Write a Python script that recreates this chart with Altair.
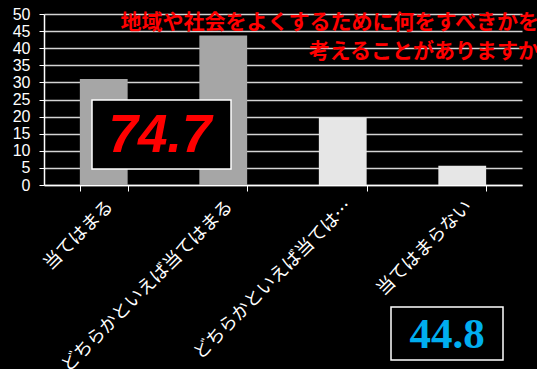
import altair as alt
import pandas as pd

categories = ["当てはまる", "どちらかといえば当てはまる", "どちらかといえば当てはまらない", "当てはまらない"]
values = [31.0, 43.7, 19.7, 5.6]
groups = ["肯定", "肯定", "否定", "否定"]
title_lines = ["地域や社会をよくするために何をすべきかを", "考えることがありますか"]
big_labels = ["74.7", "44.8"]

df = pd.DataFrame({"category": categories, "value": values, "group": groups})

W, H = 478, 171

bars = alt.Chart(df).mark_bar().encode(
    x=alt.X("category:N", sort=categories,
            scale=alt.Scale(paddingInner=0.6, paddingOuter=0.3),
            axis=alt.Axis(title=None, labelAngle=-45, labelColor="white", labelFontSize=18,
                          labelFont="Noto Sans CJK JP", labelLimit=400,
                          labelExpr="length(datum.label) > 13 ? substring(datum.label, 0, 11) + '…' : datum.label",
                          domainColor="white", domainWidth=1.5, tickColor="white", tickSize=6,
                          tickBand="extent", grid=False, labelPadding=6)),
    y=alt.Y("value:Q", scale=alt.Scale(domain=[0, 50]),
            axis=alt.Axis(title=None, values=list(range(0, 51, 5)), grid=True, gridColor="#d4d4d4",
                          gridWidth=1.5, labelColor="white", labelFontSize=16, labelFont="Liberation Sans",
                          domainColor="white", domainWidth=1.5, tickColor="white", tickSize=5,
                          labelPadding=9)),
    color=alt.Color("group:N", scale=alt.Scale(domain=["肯定", "否定"], range=["#a6a6a6", "#e6e6e6"]),
                    legend=None),
)

one = alt.Data(values=[{"a": 1}])

box1 = alt.Chart(one).mark_rect(fill="black", stroke="white", strokeWidth=1.5).encode(
    x=alt.value(48), x2=alt.value(187), y=alt.value(86), y2=alt.value(155))
txt1 = alt.Chart(one).mark_text(text=big_labels[0], color="#ff0000", font="Liberation Sans", fontSize=53,
                                fontWeight="bold", fontStyle="italic", align="center", baseline="middle").encode(
    x=alt.value(116), y=alt.value(122))

box2 = alt.Chart(one).mark_rect(fill="black", stroke="white", strokeWidth=1.5).encode(
    x=alt.value(347), x2=alt.value(459), y=alt.value(293), y2=alt.value(346))
txt2 = alt.Chart(one).mark_text(text=big_labels[1], color="#00aeef", font="Liberation Sans Narrow", fontSize=43,
                                fontWeight="bold", align="center", baseline="middle").encode(
    x=alt.value(403), y=alt.value(321))

t1 = alt.Chart(one).mark_text(text=title_lines[0], color="#ff0000", font="Noto Sans CJK JP", fontSize=21,
                              fontWeight="bold", align="right", baseline="middle").encode(
    x=alt.value(495), y=alt.value(9))
t2 = alt.Chart(one).mark_text(text=title_lines[1], color="#ff0000", font="Noto Sans CJK JP", fontSize=21,
                              fontWeight="bold", align="right", baseline="middle").encode(
    x=alt.value(495), y=alt.value(38))

chart = alt.layer(bars, box1, txt1, t1, t2, box2, txt2).properties(
    width=W, height=H,
    background="black",
    autosize=alt.AutoSizeParams(type="none"),
    padding={"left": 44, "top": 14, "right": 15, "bottom": 184},
).configure_view(stroke=None)

chart.save("out.html", embed_options={"renderer": "svg", "actions": False})
